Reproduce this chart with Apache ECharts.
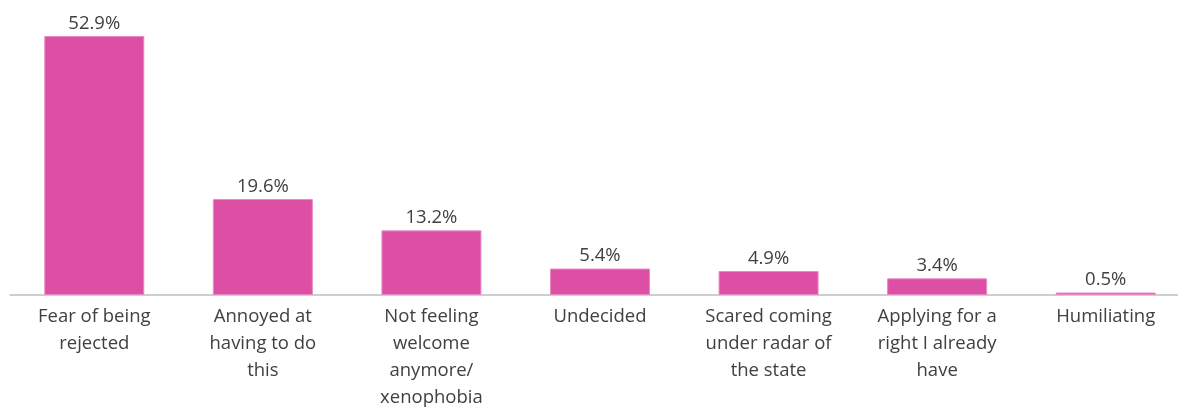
<!DOCTYPE html>
<html>
<head>
<meta charset="utf-8">
<script src="https://cdn.jsdelivr.net/npm/echarts@6/dist/echarts.min.js"></script>
<style>
  html, body { margin: 0; padding: 0; background: #fff; }
  #chart { width: 1178px; height: 407px; }
</style>
</head>
<body>
<div id="chart"></div>
<script>
// Reasons given, share of respondents (%)
const categories = [
  "Fear of being\nrejected",
  "Annoyed at\nhaving to do\nthis",
  "Not feeling\nwelcome\nanymore/\nxenophobia",
  "Undecided",
  "Scared coming\nunder radar of\nthe state",
  "Applying for a\nright I already\nhave",
  "Humiliating"
];
const values = [52.9, 19.6, 13.2, 5.4, 4.9, 3.4, 0.5];

const chart = echarts.init(document.getElementById('chart'), null, { renderer: 'canvas' });
const font = "'Open Sans', 'Noto Sans', sans-serif";

chart.setOption({
  animation: false,
  grid: { left: 10, top: 36, width: 1180, height: 259, outerBoundsMode: 'none', containLabel: false },
  xAxis: {
    type: 'category',
    data: categories,
    axisLine: { lineStyle: { color: '#BFBFBF', width: 1.5 } },
    axisTick: { show: false },
    axisLabel: {
      interval: 0,
      margin: 8,
      color: '#404040',
      fontFamily: font,
      fontSize: 18.5,
      lineHeight: 27
    }
  },
  yAxis: {
    type: 'value',
    min: 0,
    max: 52.9,
    show: false,
    splitLine: { show: false }
  },
  series: [{
    type: 'bar',
    data: values,
    barWidth: 100,
    itemStyle: { color: '#DC4FA4', borderColor: '#E88AC4', borderWidth: 1 },
    label: {
      show: true,
      position: 'top',
      distance: 3,
      color: '#404040',
      fontFamily: font,
      fontSize: 18.5,
      formatter: p => p.value.toFixed(1) + '%'
    }
  }]
});
</script>
</body>
</html>
